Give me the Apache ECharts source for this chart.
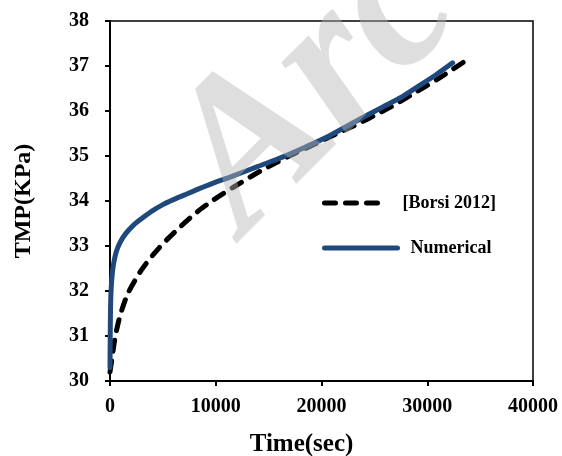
<!DOCTYPE html>
<html>
<head>
<meta charset="utf-8">
<script src="https://cdn.jsdelivr.net/npm/echarts@6/dist/echarts.min.js"></script>
<style>
html,body{margin:0;padding:0;background:#fff;}
#chart{width:562px;height:456px;}
</style>
</head>
<body>
<div id="chart"></div>
<script>
// Data
const borsiTime = [0, 190, 470, 950, 1700, 2840, 3780, 5000, 6620, 8200, 9450, 10400, 11630, 14180, 17300, 19500, 21460, 23500, 25250, 27000, 28650, 31200, 33400];
const borsiTMP  = [30.2, 30.5, 30.95, 31.45, 31.95, 32.42, 32.72, 33.05, 33.42, 33.75, 33.97, 34.12, 34.3, 34.66, 35.04, 35.28, 35.5, 35.72, 35.93, 36.15, 36.38, 36.74, 37.08];

const numTime = [0, 20, 50, 100, 200, 350, 600, 1000, 1500, 2200, 3000, 4000, 5000, 6000, 7000, 8500, 10000, 11350, 14000, 16360, 18500, 20520, 23000, 25800, 27500, 29030, 30800, 32400];
const numTMP  = [30.3, 31.0, 31.6, 32.0, 32.35, 32.62, 32.88, 33.1, 33.28, 33.46, 33.61, 33.78, 33.92, 34.03, 34.13, 34.28, 34.42, 34.53, 34.77, 34.98, 35.2, 35.42, 35.74, 36.09, 36.3, 36.53, 36.8, 37.07];

const xTicks = [0, 10000, 20000, 30000, 40000];
const yTicks = [30, 31, 32, 33, 34, 35, 36, 37, 38];

const seriesNames = ['[Borsi 2012]', 'Numerical'];
const xTitle = 'Time(sec)';
const yTitle = 'TMP(KPa)';
const watermark = 'Arc';

const FONT = '"Liberation Serif", "Times New Roman", serif';
const BLUE = '#1f497d';
const pair = (xs, ys) => xs.map((x, i) => [x, ys[i]]);

const chart = echarts.init(document.getElementById('chart'), null, {renderer: 'canvas'});
chart.setOption({
  animation: false,
  backgroundColor: '#fff',
  grid: {
    left: 110, right: 29, top: 21, bottom: 75,
    containLabel: false, outerBoundsMode: 'none',
    show: true, borderColor: '#000', borderWidth: 1.5, backgroundColor: 'transparent'
  },
  xAxis: {
    type: 'value',
    min: xTicks[0], max: xTicks[xTicks.length - 1], interval: xTicks[1] - xTicks[0],
    name: xTitle, nameLocation: 'middle', nameGap: 51,
    nameTextStyle: {fontFamily: FONT, fontWeight: 'bold', fontSize: 25, color: '#000', padding: [0, 40, 0, 0]},
    axisLine: {lineStyle: {color: '#000', width: 2}},
    axisTick: {inside: false, length: 5, lineStyle: {color: '#000', width: 2}},
    axisLabel: {margin: 16, fontFamily: FONT, fontWeight: 'bold', fontSize: 20, color: '#000',
      formatter: v => String(v)},
    splitLine: {show: false}
  },
  yAxis: {
    type: 'value',
    min: yTicks[0], max: yTicks[yTicks.length - 1], interval: yTicks[1] - yTicks[0],
    name: yTitle, nameLocation: 'middle', nameGap: 74,
    nameTextStyle: {fontFamily: FONT, fontWeight: 'bold', fontSize: 24, color: '#000'},
    axisLine: {lineStyle: {color: '#000', width: 2}},
    axisTick: {inside: false, length: 5, lineStyle: {color: '#000', width: 2}},
    axisLabel: {margin: 21, fontFamily: FONT, fontWeight: 'bold', fontSize: 20, color: '#000'},
    splitLine: {show: false}
  },
  legend: [
    {
      data: [seriesNames[0]], left: 322, top: 194, padding: 0,
      itemWidth: 63, itemHeight: 20,
      itemStyle: {color: 'transparent', borderWidth: 0},
      lineStyle: {color: '#000', width: 5, type: [11, 10], cap: 'round'},
      textStyle: {fontFamily: FONT, fontWeight: 'bold', fontSize: 18, color: '#000', padding: [0, 0, 0, 10]}
    },
    {
      data: [seriesNames[1]], left: 322, top: 239, padding: 0,
      itemWidth: 73, itemHeight: 20,
      itemStyle: {color: 'transparent', borderWidth: 0},
      lineStyle: {color: BLUE, width: 5, cap: 'round'},
      textStyle: {fontFamily: FONT, fontWeight: 'bold', fontSize: 18, color: '#000', padding: [0, 0, 0, 8]}
    }
  ],
  series: [
    {
      name: seriesNames[0], type: 'line', data: pair(borsiTime, borsiTMP),
      symbol: 'none', smooth: 0.25, z: 2,
      lineStyle: {color: '#000', width: 5, type: [11, 10], cap: 'round'},
      itemStyle: {color: '#000'}
    },
    {
      name: seriesNames[1], type: 'line', data: pair(numTime, numTMP),
      symbol: 'none', smooth: 0.25, z: 3,
      lineStyle: {color: BLUE, width: 5, cap: 'round'},
      itemStyle: {color: BLUE}
    }
  ],
  graphic: [{
    type: 'text', z: 100, silent: true,
    x: 280, y: 272, rotation: Math.PI / 4,
    style: {
      text: watermark,
      font: 'italic bold 210px "Liberation Serif", serif',
      fill: 'rgba(182,182,182,0.45)',
      textVerticalAlign: 'bottom'
    }
  }]
});
</script>
</body>
</html>
